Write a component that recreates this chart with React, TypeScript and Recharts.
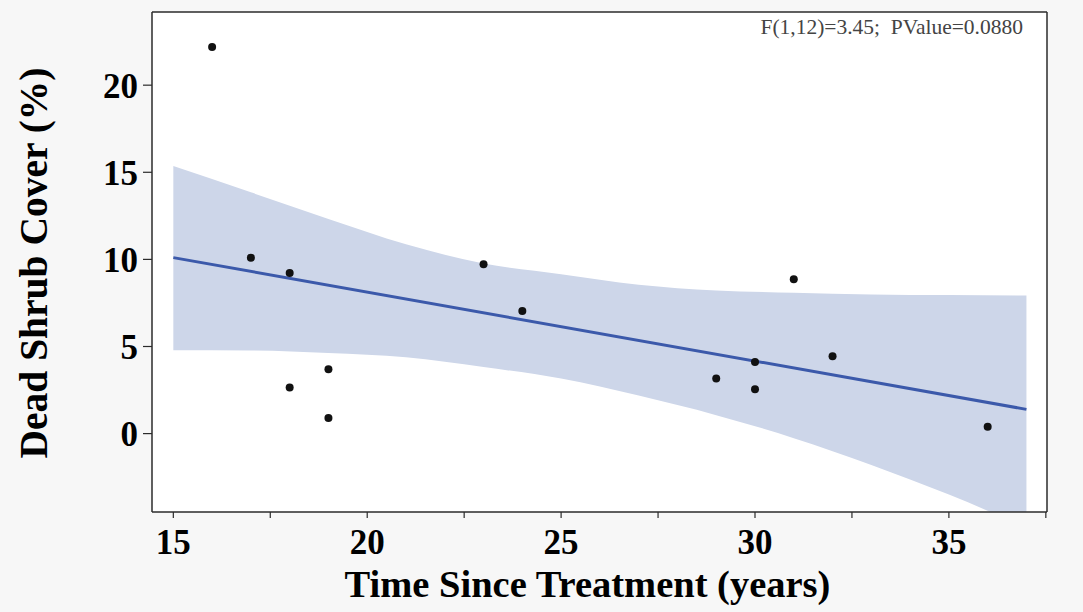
import {
  ComposedChart,
  Area,
  Line,
  Scatter,
  XAxis,
  YAxis,
  CartesianGrid,
} from "recharts";

// observed points
const YEARS = [16, 17, 18, 18, 19, 19, 23, 24, 29, 30, 30, 31, 32, 36];
const COVER = [22.19, 10.1, 9.22, 2.64, 3.69, 0.9, 9.72, 7.04, 3.16, 4.11, 2.54, 8.86, 4.44, 0.4];

// fitted line end points
const FIT_X = [15, 37];
const FIT_Y = [10.1, 1.39];

// confidence band
const BAND_X = [15, 17, 19, 21, 23, 25, 27, 29, 31, 33, 35, 37];
const BAND_UPPER = [15.36, 13.85, 12.32, 10.87, 9.76, 9.15, 8.55, 8.22, 8.08, 7.99, 7.95, 7.92];
const BAND_LOWER = [4.78, 4.77, 4.62, 4.38, 3.82, 3.16, 2.18, 1.06, -0.26, -1.8, -3.5, -5.4];

const X_TICKS = [15, 17.5, 20, 22.5, 25, 27.5, 30, 32.5, 35, 37.5];
const Y_TICKS = [0, 5, 10, 15, 20];

const STAT_TEXT = "F(1,12)=3.45;  PValue=0.0880";
const X_TITLE = "Time Since Treatment (years)";
const Y_TITLE = "Dead Shrub Cover (%)";

const X_DOMAIN: [number, number] = [14.45, 37.53];
const Y_DOMAIN: [number, number] = [-4.5, 24.2];

const FONT = '"Liberation Serif", "Times New Roman", serif';
const AXIS_COLOR = "#2b2b2b";

const bandRows = BAND_X.map((x, i) => ({ x, range: [BAND_LOWER[i], BAND_UPPER[i]] }));
const pointRows = YEARS.map((x, i) => ({ x, y: COVER[i] }));
const fitRows = FIT_X.map((x, i) => ({ x, y: FIT_Y[i] }));

function Dot(props: any) {
  const { cx, cy } = props;
  if (cx == null || cy == null) return null;
  return <circle cx={cx} cy={cy} r={4} fill="#111" />;
}

export default function App() {
  return (
    <div style={{ width: 1083, height: 612, position: "relative" }}>
      <style>{`body{margin:0;background:#f7f7f7;}`}</style>
      <ComposedChart
        width={1083}
        height={612}
        data={bandRows}
        margin={{ top: 12, right: 36, bottom: 0, left: 0 }}
      >
        <CartesianGrid fill="#ffffff" horizontal={false} vertical={false} />
        <XAxis
          type="number"
          dataKey="x"
          domain={X_DOMAIN}
          ticks={X_TICKS}
          allowDataOverflow
          height={100}
          tickSize={6}
          tickMargin={11}
          interval={0}
          tickFormatter={(v: number) => (v % 5 === 0 ? String(v) : "")}
          tick={{ fill: "#000", fontSize: 35, fontWeight: 700, fontFamily: FONT }}
          axisLine={{ stroke: AXIS_COLOR, strokeWidth: 1.5 }}
          tickLine={{ stroke: AXIS_COLOR, strokeWidth: 1.2 }}
          label={{
            content: (p: any) => {
              const vb = p.viewBox;
              return (
                <text
                  x={vb.x + vb.width / 2 - 12}
                  y={vb.y + 85}
                  textAnchor="middle"
                  fontFamily={FONT}
                  fontWeight={700}
                  fontSize={38.5}
                  fill="#000"
                >
                  {X_TITLE}
                </text>
              );
            },
          }}
        />
        <YAxis
          type="number"
          domain={Y_DOMAIN}
          ticks={Y_TICKS}
          allowDataOverflow
          width={152}
          tickSize={9}
          tickMargin={5}
          interval={0}
          tick={{ fill: "#000", fontSize: 35, fontWeight: 700, fontFamily: FONT }}
          axisLine={{ stroke: AXIS_COLOR, strokeWidth: 1.5 }}
          tickLine={{ stroke: AXIS_COLOR, strokeWidth: 1.2 }}
          label={{
            content: (p: any) => {
              const vb = p.viewBox;
              const cx = vb.x + 34;
              const cy = vb.y + vb.height / 2 + 1;
              return (
                <text
                  x={cx}
                  y={cy}
                  transform={`rotate(-90 ${cx} ${cy})`}
                  textAnchor="middle"
                  dominantBaseline="central"
                  fontFamily={FONT}
                  fontWeight={700}
                  fontSize={39.5}
                  fill="#000"
                >
                  {Y_TITLE}
                </text>
              );
            },
          }}
        />
        <Area
          type="monotone"
          dataKey="range"
          stroke="none"
          fill="#cdd6e9"
          fillOpacity={1}
          isAnimationActive={false}
        />
        <Line
          data={fitRows}
          dataKey="y"
          type="linear"
          stroke="#3b59aa"
          strokeWidth={3}
          dot={false}
          activeDot={false}
          isAnimationActive={false}
        />
        <Scatter data={pointRows} dataKey="y" shape={Dot} isAnimationActive={false} />
        {/* top and right frame lines */}
        <CartesianGrid
          fill="none"
          stroke={AXIS_COLOR}
          strokeWidth={1.5}
          strokeDasharray=""
          horizontalCoordinatesGenerator={({ offset }: any) => [offset.top]}
          verticalCoordinatesGenerator={({ offset }: any) => [offset.left + offset.width]}
        />
      </ComposedChart>
      <svg
        width={1083}
        height={612}
        style={{ position: "absolute", left: 0, top: 0, pointerEvents: "none" }}
      >
        <text
          x={1023}
          y={34}
          textAnchor="end"
          fontFamily={FONT}
          fontSize={21.5}
          fill="#444"
          style={{ whiteSpace: "pre" }}
        >
          {STAT_TEXT}
        </text>
      </svg>
    </div>
  );
}
